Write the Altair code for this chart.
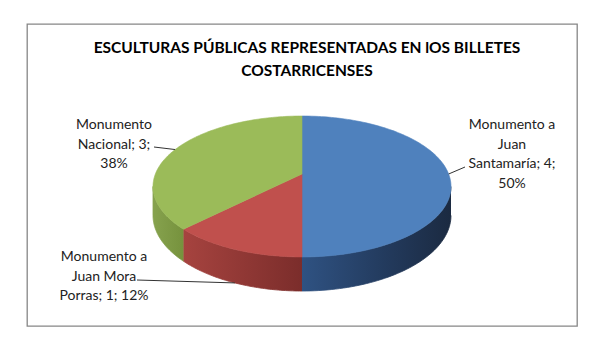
import altair as alt
import numpy as np
import pandas as pd

# ---------------- data ----------------
categories = ["Monumento a Juan Santamaría", "Monumento a Juan Mora Porras", "Monumento Nacional"]
values = [4, 1, 3]
title_lines = ["ESCULTURAS PÚBLICAS REPRESENTADAS EN lOS BILLETES", "COSTARRICENSES"]

# ---------------- style / layout ----------------
top_colors = ["#4F81BD", "#C0504D", "#9BBB59"]
side_gradients = [
    [("#2F5282", 0.0), ("#233B5E", 0.55), ("#1B2A41", 1.0)],
    [("#A6433F", 0.0), ("#7B2D2B", 1.0)],
    [("#86A24E", 0.0), ("#76923D", 1.0)],
]
words_per_line = [[2, 1, 1], [2, 2, 1], [1, 1]]
pct_on_new_line = [True, False, True]
label_pos = [(210, 45), (-198, -87), (-188, 45)]      # first-line baseline, px from pie apex
leader_end = [(163, 7), (-165, -106), (-148, 27)]

# perspective parameters for the 3-D pie (pixels)
DIST, KX, KY, DEPTH = 5.64, 827.0, 385.0, 158.0
VIEW_W, VIEW_H = 550, 302
APEX_X, APEX_Y = 275, 150          # apex position inside the view

def project(theta_deg):
    t = np.radians(theta_deg)
    w = DIST + np.cos(t)
    return np.sin(t) * KX / w, np.cos(t) * KY / w, DEPTH / w

total = sum(values)
fracs = [v / total for v in values]
starts = np.concatenate([[0], np.cumsum(fracs)[:-1]]) * 360
ends = np.cumsum(fracs) * 360
theta_r = np.degrees(np.arccos(-1 / DIST))
theta_l = 360 - theta_r

xs = alt.Scale(domain=[-APEX_X, VIEW_W - APEX_X])
ys = alt.Scale(domain=[APEX_Y - VIEW_H, APEX_Y])
X = alt.X("x:Q", scale=xs, axis=None)
Y = alt.Y("y:Q", scale=ys, axis=None)

layers = []
# sides
for i, cat in enumerate(categories):
    a, b = max(starts[i], theta_r), min(ends[i], theta_l)
    if b <= a:
        continue
    th = np.linspace(a, b, 60)
    px, py, dp = project(th)
    xx = np.concatenate([px, px[::-1]])
    yy = np.concatenate([py, (py - dp)[::-1]])
    df = pd.DataFrame({"x": xx, "y": yy, "idx": np.arange(len(xx)), "cat": cat})
    grad = alt.Gradient(gradient="linear", x1=0, x2=1, y1=0, y2=0,
                        stops=[alt.GradientStop(color=c, offset=o) for c, o in side_gradients[i]])
    layers.append(alt.Chart(df).mark_line(fill=grad, stroke=grad, strokeWidth=0.8).encode(
        x=X, y=Y, order=alt.Order("idx:Q")))

# top faces
for i, cat in enumerate(categories):
    th = np.linspace(starts[i], ends[i], 120)
    px, py, _ = project(th)
    xx = np.concatenate([[0], px, [0]])
    yy = np.concatenate([[0], py, [0]])
    df = pd.DataFrame({"x": xx, "y": yy, "idx": np.arange(len(xx)), "cat": cat})
    layers.append(alt.Chart(df).mark_line(fill=top_colors[i], stroke=top_colors[i], strokeWidth=0.6).encode(
        x=X, y=Y, order=alt.Order("idx:Q")))

# leader lines and labels
lead_rows, lab_rows = [], []
for i, cat in enumerate(categories):
    mid = (starts[i] + ends[i]) / 2
    mx, my, md = project(mid)
    if theta_r <= mid <= theta_l:
        my = my - md
    lead_rows += [{"x": float(mx), "y": float(my), "idx": 0, "cat": cat},
                  {"x": leader_end[i][0], "y": leader_end[i][1], "idx": 1, "cat": cat}]
    words = cat.split(" ")
    lines, k = [], 0
    for n in words_per_line[i]:
        lines.append(" ".join(words[k:k + n]))
        k += n
    pct = round(100 * values[i] / total)
    lines[-1] += f"; {values[i]};"
    if pct_on_new_line[i]:
        lines.append(f"{pct}%")
    else:
        lines[-1] += f" {pct}%"
    lab_rows.append({"x": label_pos[i][0], "y": label_pos[i][1], "text": "\n".join(lines)})

layers.append(alt.Chart(pd.DataFrame(lead_rows)).mark_line(color="#333333", strokeWidth=1).encode(
    x=X, y=Y, order=alt.Order("idx:Q"), detail="cat:N"))
layers.append(alt.Chart(pd.DataFrame(lab_rows)).mark_text(
    align="center", baseline="alphabetic", lineBreak="\n", lineHeight=19.7,
    font="Lato", fontSize=14, color="#222222").encode(x=X, y=Y, text="text:N"))

chart = alt.layer(*layers).properties(
    width=VIEW_W, height=VIEW_H,
    autosize=alt.AutoSizeParams(type="none"),
    padding={"left": 19, "top": 16, "right": 29, "bottom": 26},
    title=alt.TitleParams(text=title_lines, font="Lato", fontSize=15.5, fontWeight="bold",
                          color="#000000", anchor="middle", baseline="top", lineHeight=23,
                          offset=0, dy=55, dx=5),
).configure_view(stroke="#868686", strokeWidth=1.3)

chart.save("out.html", embed_options={"renderer": "svg", "actions": False})
